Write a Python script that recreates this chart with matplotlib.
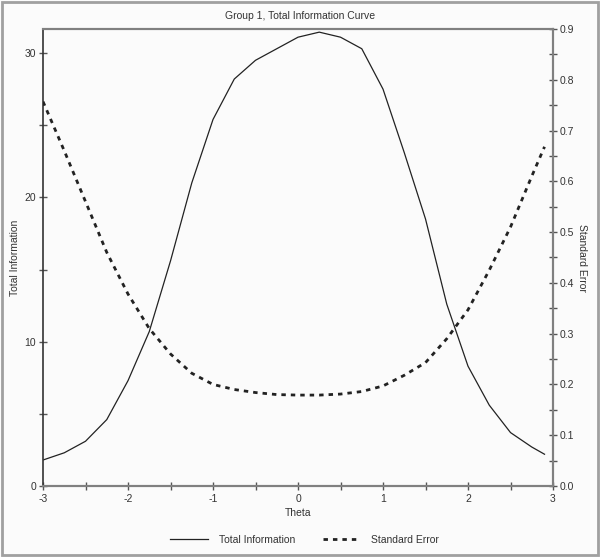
import numpy as np
import matplotlib
matplotlib.use('Agg')
import matplotlib.pyplot as plt
from matplotlib.patches import Rectangle
from matplotlib.ticker import MultipleLocator, FormatStrFormatter

plt.rcParams['font.family'] = ['Liberation Sans', 'DejaVu Sans']
plt.rcParams['axes.unicode_minus'] = False

theta = [-3.0, -2.75, -2.5, -2.25, -2.0, -1.75, -1.5, -1.25, -1.0, -0.75, -0.5,
         -0.25, 0.0, 0.25, 0.5, 0.75, 1.0, 1.25, 1.5, 1.75, 2.0, 2.25, 2.5, 2.75, 2.9]
total_info = [1.8, 2.3, 3.1, 4.6, 7.3, 10.7, 15.6, 21.0, 25.4, 28.2, 29.5,
              30.3, 31.1, 31.45, 31.1, 30.3, 27.5, 23.1, 18.5, 12.6, 8.3, 5.6, 3.7, 2.7, 2.2]
std_err = [0.757, 0.66, 0.56, 0.46, 0.378, 0.31, 0.26, 0.222, 0.200, 0.190, 0.184,
           0.180, 0.179, 0.179, 0.181, 0.186, 0.197, 0.218, 0.243, 0.29, 0.347, 0.425, 0.51, 0.61, 0.668]

txt = '#333333'
fig = plt.figure(figsize=(6, 5.57), dpi=100, facecolor='#fbfbfb')
fig.patches.append(Rectangle((0.003, 0.003), 0.994, 0.994, transform=fig.transFigure,
                             fill=False, edgecolor='#a0a0a0', lw=2))

ax = fig.add_axes([0.0717, 0.1275, 0.85, 0.8205])
ax.set_facecolor('#fbfbfb')
ax2 = ax.twinx()

ax.plot(theta, total_info, color='#222222', lw=0.9, label='Total Information')
ax2.plot(theta, std_err, color='#222222', lw=2, ls=(0, (1.6, 1.8)), label='Standard Error')

ax.set_xlim(-3, 3)
ax.set_ylim(0, 31.67)
ax2.set_ylim(0, 0.9)

ax.xaxis.set_major_locator(MultipleLocator(1))
ax.xaxis.set_minor_locator(MultipleLocator(0.5))
ax.yaxis.set_major_locator(MultipleLocator(10))
ax.yaxis.set_minor_locator(MultipleLocator(5))
ax2.yaxis.set_major_locator(MultipleLocator(0.1))
ax2.yaxis.set_minor_locator(MultipleLocator(0.05))
ax2.yaxis.set_major_formatter(FormatStrFormatter('%.1f'))

for a in (ax, ax2):
    a.tick_params(which='both', direction='inout', length=6, width=1,
                  colors='#555555', labelcolor=txt, labelsize=7.5, pad=2)
    for s in a.spines.values():
        s.set_color('#808080')
        s.set_linewidth(1.5)
ax2.spines['left'].set_visible(False)
ax.spines['left'].set_color('#333333')
ax.spines['left'].set_linewidth(1.2)
ax.tick_params(axis='x', pad=3)

ax.set_xlabel('Theta', fontsize=7.5, color=txt, labelpad=3)
ax.set_ylabel('Total Information', fontsize=7.5, color=txt, labelpad=3)
ax2.set_ylabel('Standard Error', fontsize=7.5, color=txt, rotation=-90, labelpad=9)
fig.text(0.5, 0.972, 'Group 1, Total Information Curve', ha='center', va='center',
         fontsize=7.5, color=txt)

h1, l1 = ax.get_legend_handles_labels()
h2, l2 = ax2.get_legend_handles_labels()
fig.legend(h1 + h2, l1 + l2, loc='center', bbox_to_anchor=(0.508, 0.031), ncol=2,
           frameon=False, fontsize=7.5, handlelength=3.6, handletextpad=1.1,
           columnspacing=2.6, labelcolor=txt)

fig.savefig('out.png', dpi=100, facecolor=fig.get_facecolor())
